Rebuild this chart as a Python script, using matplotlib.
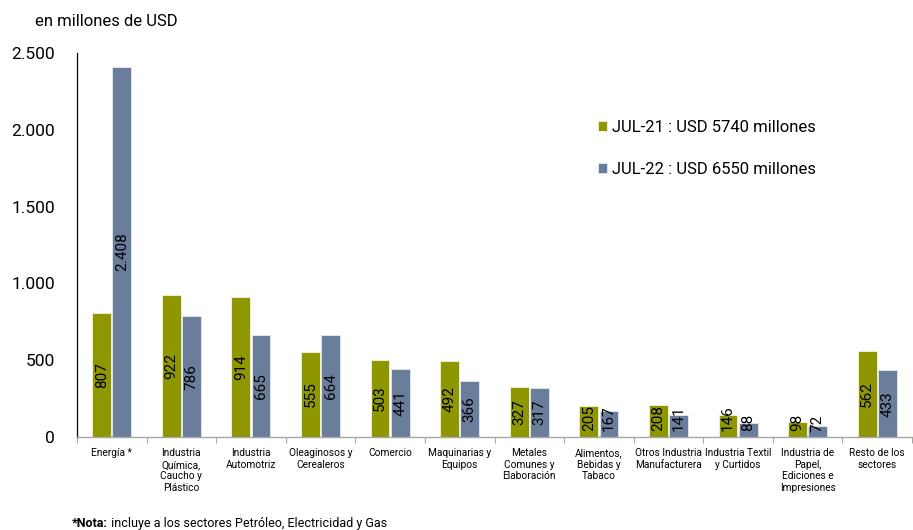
import matplotlib
matplotlib.use('Agg')
import matplotlib.pyplot as plt
import numpy as np

plt.rcParams['font.family'] = ['Roboto', 'DejaVu Sans']

# Datos (en millones de USD)
categorias = [
    'Energía *',
    'Industria\nQuímica,\nCaucho y\nPlástico',
    'Industria\nAutomotriz',
    'Oleaginosos y\nCerealeros',
    'Comercio',
    'Maquinarias y\nEquipos',
    'Metales\nComunes y\nElaboración',
    'Alimentos,\nBebidas y\nTabaco',
    'Otros Industria\nManufacturera',
    'Industria Textil\ny Curtidos',
    'Industria de\nPapel,\nEdiciones e\nImpresiones',
    'Resto de los\nsectores',
]
jul21 = [807, 922, 914, 555, 503, 492, 327, 205, 208, 146, 98, 562]
jul22 = [2408, 786, 665, 664, 441, 366, 317, 167, 141, 88, 72, 433]
etiqueta21 = 'JUL-21 : USD 5740 millones'
etiqueta22 = 'JUL-22 : USD 6550 millones'

color21 = '#8E9600'
color22 = '#6A7E9C'

fig = plt.figure(figsize=(9.13, 5.30), dpi=100)
ax = fig.add_axes([77 / 913, 93 / 530, 835 / 913, 384 / 530])

x = np.arange(len(categorias))
w = 0.27
off = 0.145
ax.bar(x - off, jul21, w, color=color21, edgecolor='#F4F4E0', linewidth=0.6, label=etiqueta21)
ax.bar(x + off, jul22, w, color=color22, edgecolor='#E4E9F0', linewidth=0.6, label=etiqueta22)


def fmt(v):
    return f'{v:,}'.replace(',', '.')


# etiquetas de valor dentro de las barras, rotadas
for xs, vals in ((x - off, jul21), (x + off, jul22)):
    for xi, v in zip(xs, vals):
        s = fmt(v)
        y = max(v / 2, 30 * len(s) + 32)
        ax.text(xi, y, s, rotation=90, ha='center', va='center', fontsize=11, color='black')

ax.set_xlim(-0.5, len(categorias) - 0.5)
ax.set_ylim(0, 2500)
yt = [0, 500, 1000, 1500, 2000, 2500]
ax.set_yticks(yt)
ax.set_yticklabels([fmt(v) for v in yt], fontsize=12.5)
ax.tick_params(axis='y', length=0, pad=16)

ax.set_xticks(x)
ax.set_xticklabels(categorias, fontsize=7.3, linespacing=1.2, va='top')
ax.set_xticks(np.arange(-0.5, len(categorias)), minor=True)
ax.tick_params(axis='x', which='major', length=0, pad=8)
ax.tick_params(axis='x', which='minor', length=4, color='#A6A6A6', width=0.8)

for s in ['top', 'right']:
    ax.spines[s].set_visible(False)
ax.spines['left'].set_color('black')
ax.spines['left'].set_linewidth(0.9)
ax.spines['bottom'].set_color('#A6A6A6')
ax.spines['bottom'].set_linewidth(1.0)

ax.legend(loc='upper left', bbox_to_anchor=(598 / 913, 1 - 120 / 530), bbox_transform=fig.transFigure,
          frameon=False, fontsize=12, handlelength=0.55, handleheight=0.55, handletextpad=0.3,
          labelspacing=1.6, borderpad=0, borderaxespad=0)

fig.text(35 / 913, 1 - 21 / 530, 'en millones de USD', fontsize=12, va='center', ha='left')

# nota al pie: parte en negrita + resto normal
t1 = fig.text(72 / 913, 1 - 527 / 530, '*Nota:', fontsize=9, fontweight='bold', va='baseline', ha='left')
ax.annotate(' incluye a los sectores Petróleo, Electricidad y Gas', xy=(1, 0), xycoords=t1,
            va='bottom', ha='left', fontsize=9, annotation_clip=False)

fig.savefig('out.png', dpi=100)
